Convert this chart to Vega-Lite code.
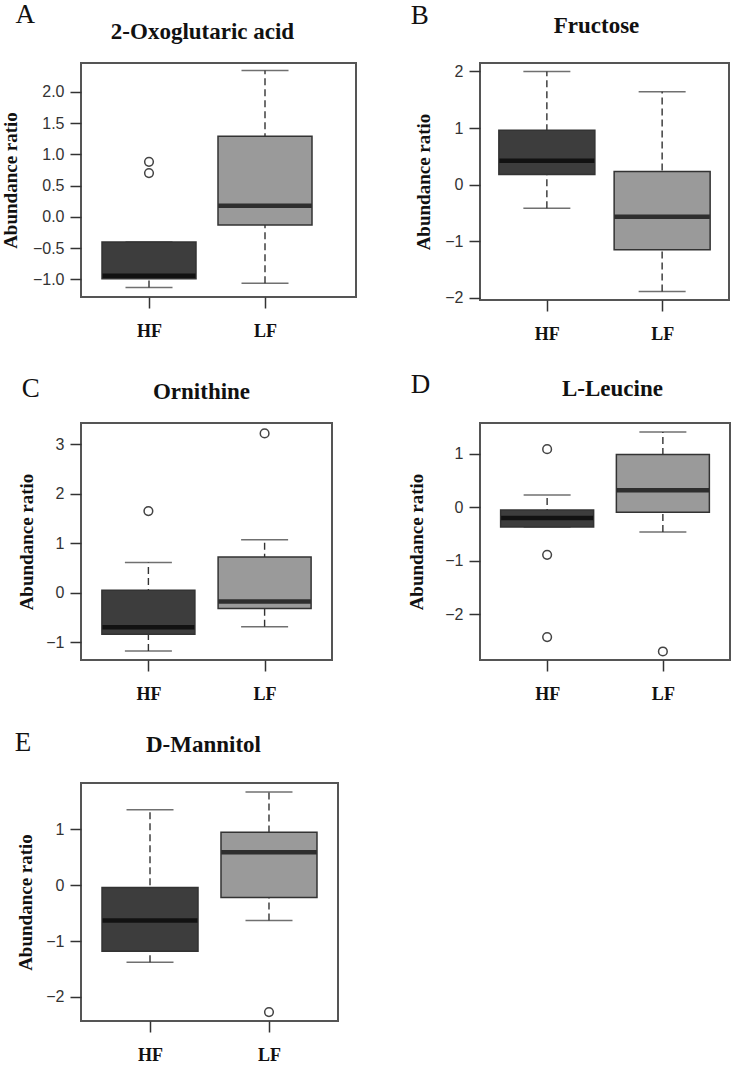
{
  "$schema": "https://vega.github.io/schema/vega-lite/v6.json",
  "background": "white",
  "padding": {"left": 0, "top": 0, "right": 0, "bottom": 0},
  "datasets": {
    "boxes": [
      {"panel": "A", "group": "HF", "lo": -1.13, "q1": -0.99, "med": -0.94, "q3": -0.40, "hi": -0.40},
      {"panel": "A", "group": "LF", "lo": -1.06, "q1": -0.13, "med": 0.18, "q3": 1.29, "hi": 2.34},
      {"panel": "B", "group": "HF", "lo": -0.42, "q1": 0.18, "med": 0.42, "q3": 0.96, "hi": 2.0},
      {"panel": "B", "group": "LF", "lo": -1.89, "q1": -1.15, "med": -0.57, "q3": 0.23, "hi": 1.64},
      {"panel": "C", "group": "HF", "lo": -1.18, "q1": -0.84, "med": -0.70, "q3": 0.05, "hi": 0.61},
      {"panel": "C", "group": "LF", "lo": -0.69, "q1": -0.32, "med": -0.18, "q3": 0.72, "hi": 1.07},
      {"panel": "D", "group": "HF", "lo": -0.37, "q1": -0.37, "med": -0.20, "q3": -0.05, "hi": 0.23},
      {"panel": "D", "group": "LF", "lo": -0.46, "q1": -0.09, "med": 0.32, "q3": 0.99, "hi": 1.41},
      {"panel": "E", "group": "HF", "lo": -1.38, "q1": -1.18, "med": -0.63, "q3": -0.04, "hi": 1.35},
      {"panel": "E", "group": "LF", "lo": -0.63, "q1": -0.22, "med": 0.59, "q3": 0.95, "hi": 1.67}
    ],
    "outliers": [
      {"panel": "A", "group": "HF", "value": 0.88},
      {"panel": "A", "group": "HF", "value": 0.70},
      {"panel": "C", "group": "HF", "value": 1.65},
      {"panel": "C", "group": "LF", "value": 3.22},
      {"panel": "D", "group": "HF", "value": 1.09},
      {"panel": "D", "group": "HF", "value": -0.89},
      {"panel": "D", "group": "HF", "value": -2.43},
      {"panel": "D", "group": "LF", "value": -2.70},
      {"panel": "E", "group": "LF", "value": -2.27}
    ]
  },
  "columns": 2,
  "bounds": "flush",
  "align": "each",
  "spacing": {"row": 123, "column": 124},
  "concat": [
    {
      "title": {"text": "A", "dx": 14, "offset": -9},
      "width": 275, "height": 234,
      "resolve": {"axis": {"x": "independent"}},
      "layer": [
        {"data": {"name": "boxes"}, "transform": [{"filter": "datum.panel === 'A'"}],
         "mark": {"type": "rule", "strokeDash": [7, 4], "color": "#333", "strokeWidth": 1.4},
         "encoding": {
           "x": {"field": "group", "type": "nominal", "scale": {"type": "point", "range": [68, 184], "padding": 0}},
           "y": {"field": "lo", "type": "quantitative", "scale": {"domain": [-1.28, 2.46], "nice": false, "zero": false}, "axis": {"values": [-1, -0.5, 0, 0.5, 1, 1.5, 2], "format": ".1f", "title": "Abundance ratio", "titlePadding": 12}},
           "y2": {"field": "hi"}}},
        {"data": {"name": "boxes"}, "transform": [{"filter": "datum.panel === 'A'"}],
         "mark": {"type": "tick", "size": 47, "thickness": 1.5, "color": "#333"},
         "encoding": {
           "x": {"field": "group", "type": "nominal", "scale": {"type": "point", "range": [68, 184], "padding": 0}, "axis": null},
           "y": {"field": "lo", "type": "quantitative", "scale": {"domain": [-1.28, 2.46], "nice": false, "zero": false}, "axis": {"values": [-1, -0.5, 0, 0.5, 1, 1.5, 2], "format": ".1f", "title": "Abundance ratio", "titlePadding": 12}}}},
        {"data": {"name": "boxes"}, "transform": [{"filter": "datum.panel === 'A'"}],
         "mark": {"type": "tick", "size": 47, "thickness": 1.5, "color": "#333"},
         "encoding": {
           "x": {"field": "group", "type": "nominal", "scale": {"type": "point", "range": [68, 184], "padding": 0}, "axis": null},
           "y": {"field": "hi", "type": "quantitative", "scale": {"domain": [-1.28, 2.46], "nice": false, "zero": false}, "axis": {"values": [-1, -0.5, 0, 0.5, 1, 1.5, 2], "format": ".1f", "title": "Abundance ratio", "titlePadding": 12}}}},
        {"data": {"name": "boxes"}, "transform": [{"filter": "datum.panel === 'A'"}],
         "mark": {"type": "bar", "width": 94, "stroke": "#333", "strokeWidth": 1.5, "opacity": 1},
         "encoding": {
           "x": {"field": "group", "type": "nominal", "scale": {"type": "point", "range": [68, 184], "padding": 0}, "axis": {"orient": "top", "title": "2-Oxoglutaric  acid", "labels": false, "ticks": false, "titlePadding": 20, "titleX": 121}},
           "y": {"field": "q1", "type": "quantitative", "scale": {"domain": [-1.28, 2.46], "nice": false, "zero": false}, "axis": {"values": [-1, -0.5, 0, 0.5, 1, 1.5, 2], "format": ".1f", "title": "Abundance ratio", "titlePadding": 12}},
           "y2": {"field": "q3"},
           "color": {"field": "group", "type": "nominal", "scale": {"domain": ["HF", "LF"], "range": ["#3d3d3d", "#9a9a9a"]}, "legend": null}}},
        {"data": {"name": "boxes"}, "transform": [{"filter": "datum.panel === 'A'"}],
         "mark": {"type": "tick", "size": 93, "thickness": 4.5, "color": "#000"},
         "encoding": {
           "x": {"field": "group", "type": "nominal", "scale": {"type": "point", "range": [68, 184], "padding": 0}, "axis": null},
           "y": {"field": "med", "type": "quantitative", "scale": {"domain": [-1.28, 2.46], "nice": false, "zero": false}, "axis": {"values": [-1, -0.5, 0, 0.5, 1, 1.5, 2], "format": ".1f", "title": "Abundance ratio", "titlePadding": 12}}}},
        {"data": {"name": "outliers"}, "transform": [{"filter": "datum.panel === 'A'"}],
         "mark": {"type": "point", "filled": false, "size": 75, "strokeWidth": 1.5, "color": "#444", "opacity": 1},
         "encoding": {
           "x": {"field": "group", "type": "nominal", "scale": {"type": "point", "range": [68, 184], "padding": 0}, "axis": null},
           "y": {"field": "value", "type": "quantitative", "scale": {"domain": [-1.28, 2.46], "nice": false, "zero": false}, "axis": {"values": [-1, -0.5, 0, 0.5, 1, 1.5, 2], "format": ".1f", "title": "Abundance ratio", "titlePadding": 12}}}}
      ]
    },
    {
      "title": {"text": "B", "dx": -4, "offset": -16},
      "width": 249, "height": 237,
      "resolve": {"axis": {"x": "independent"}},
      "layer": [
        {"data": {"name": "boxes"}, "transform": [{"filter": "datum.panel === 'B'"}],
         "mark": {"type": "rule", "strokeDash": [7, 4], "color": "#333", "strokeWidth": 1.4},
         "encoding": {
           "x": {"field": "group", "type": "nominal", "scale": {"type": "point", "padding": 0.58}},
           "y": {"field": "lo", "type": "quantitative", "scale": {"domain": [-2.04, 2.15], "nice": false, "zero": false}, "axis": {"values": [-2, -1, 0, 1, 2], "format": "d", "title": "Abundance ratio", "titlePadding": 11}},
           "y2": {"field": "hi"}}},
        {"data": {"name": "boxes"}, "transform": [{"filter": "datum.panel === 'B'"}],
         "mark": {"type": "tick", "size": 47, "thickness": 1.5, "color": "#333"},
         "encoding": {
           "x": {"field": "group", "type": "nominal", "scale": {"type": "point", "padding": 0.58}, "axis": null},
           "y": {"field": "lo", "type": "quantitative", "scale": {"domain": [-2.04, 2.15], "nice": false, "zero": false}, "axis": {"values": [-2, -1, 0, 1, 2], "format": "d", "title": "Abundance ratio", "titlePadding": 11}}}},
        {"data": {"name": "boxes"}, "transform": [{"filter": "datum.panel === 'B'"}],
         "mark": {"type": "tick", "size": 47, "thickness": 1.5, "color": "#333"},
         "encoding": {
           "x": {"field": "group", "type": "nominal", "scale": {"type": "point", "padding": 0.58}, "axis": null},
           "y": {"field": "hi", "type": "quantitative", "scale": {"domain": [-2.04, 2.15], "nice": false, "zero": false}, "axis": {"values": [-2, -1, 0, 1, 2], "format": "d", "title": "Abundance ratio", "titlePadding": 11}}}},
        {"data": {"name": "boxes"}, "transform": [{"filter": "datum.panel === 'B'"}],
         "mark": {"type": "bar", "width": 96, "stroke": "#333", "strokeWidth": 1.5, "opacity": 1},
         "encoding": {
           "x": {"field": "group", "type": "nominal", "scale": {"type": "point", "padding": 0.58}, "axis": {"orient": "top", "title": "Fructose", "labels": false, "ticks": false, "titlePadding": 26, "titleX": 116}},
           "y": {"field": "q1", "type": "quantitative", "scale": {"domain": [-2.04, 2.15], "nice": false, "zero": false}, "axis": {"values": [-2, -1, 0, 1, 2], "format": "d", "title": "Abundance ratio", "titlePadding": 11}},
           "y2": {"field": "q3"},
           "color": {"field": "group", "type": "nominal", "scale": {"domain": ["HF", "LF"], "range": ["#3d3d3d", "#9a9a9a"]}, "legend": null}}},
        {"data": {"name": "boxes"}, "transform": [{"filter": "datum.panel === 'B'"}],
         "mark": {"type": "tick", "size": 95, "thickness": 4.5, "color": "#000"},
         "encoding": {
           "x": {"field": "group", "type": "nominal", "scale": {"type": "point", "padding": 0.58}, "axis": null},
           "y": {"field": "med", "type": "quantitative", "scale": {"domain": [-2.04, 2.15], "nice": false, "zero": false}, "axis": {"values": [-2, -1, 0, 1, 2], "format": "d", "title": "Abundance ratio", "titlePadding": 11}}}}
      ]
    },
    {
      "title": {"text": "C", "dx": 4, "offset": -23},
      "width": 251, "height": 237,
      "resolve": {"axis": {"x": "independent"}},
      "layer": [
        {"data": {"name": "boxes"}, "transform": [{"filter": "datum.panel === 'C'"}],
         "mark": {"type": "rule", "strokeDash": [7, 4], "color": "#333", "strokeWidth": 1.4},
         "encoding": {
           "x": {"field": "group", "type": "nominal", "scale": {"type": "point", "padding": 0.58}},
           "y": {"field": "lo", "type": "quantitative", "scale": {"domain": [-1.36, 3.43], "nice": false, "zero": false}, "axis": {"values": [-1, 0, 1, 2, 3], "format": "d", "title": "Abundance ratio", "titlePadding": 9}},
           "y2": {"field": "hi"}}},
        {"data": {"name": "boxes"}, "transform": [{"filter": "datum.panel === 'C'"}],
         "mark": {"type": "tick", "size": 47, "thickness": 1.5, "color": "#333"},
         "encoding": {
           "x": {"field": "group", "type": "nominal", "scale": {"type": "point", "padding": 0.58}, "axis": null},
           "y": {"field": "lo", "type": "quantitative", "scale": {"domain": [-1.36, 3.43], "nice": false, "zero": false}, "axis": {"values": [-1, 0, 1, 2, 3], "format": "d", "title": "Abundance ratio", "titlePadding": 9}}}},
        {"data": {"name": "boxes"}, "transform": [{"filter": "datum.panel === 'C'"}],
         "mark": {"type": "tick", "size": 47, "thickness": 1.5, "color": "#333"},
         "encoding": {
           "x": {"field": "group", "type": "nominal", "scale": {"type": "point", "padding": 0.58}, "axis": null},
           "y": {"field": "hi", "type": "quantitative", "scale": {"domain": [-1.36, 3.43], "nice": false, "zero": false}, "axis": {"values": [-1, 0, 1, 2, 3], "format": "d", "title": "Abundance ratio", "titlePadding": 9}}}},
        {"data": {"name": "boxes"}, "transform": [{"filter": "datum.panel === 'C'"}],
         "mark": {"type": "bar", "width": 93, "stroke": "#333", "strokeWidth": 1.5, "opacity": 1},
         "encoding": {
           "x": {"field": "group", "type": "nominal", "scale": {"type": "point", "padding": 0.58}, "axis": {"orient": "top", "title": "Ornithine", "labels": false, "ticks": false, "titlePadding": 20, "titleX": 120}},
           "y": {"field": "q1", "type": "quantitative", "scale": {"domain": [-1.36, 3.43], "nice": false, "zero": false}, "axis": {"values": [-1, 0, 1, 2, 3], "format": "d", "title": "Abundance ratio", "titlePadding": 9}},
           "y2": {"field": "q3"},
           "color": {"field": "group", "type": "nominal", "scale": {"domain": ["HF", "LF"], "range": ["#858585", "#6a6a6a"]}, "legend": null}}},
        {"data": {"name": "boxes"}, "transform": [{"filter": "datum.panel === 'C'"}],
         "mark": {"type": "tick", "size": 92, "thickness": 4.5, "color": "#000"},
         "encoding": {
           "x": {"field": "group", "type": "nominal", "scale": {"type": "point", "padding": 0.58}, "axis": null},
           "y": {"field": "med", "type": "quantitative", "scale": {"domain": [-1.36, 3.43], "nice": false, "zero": false}, "axis": {"values": [-1, 0, 1, 2, 3], "format": "d", "title": "Abundance ratio", "titlePadding": 9}}}},
        {"data": {"name": "outliers"}, "transform": [{"filter": "datum.panel === 'C'"}],
         "mark": {"type": "point", "filled": false, "size": 75, "strokeWidth": 1.5, "color": "#444", "opacity": 1},
         "encoding": {
           "x": {"field": "group", "type": "nominal", "scale": {"type": "point", "padding": 0.58}, "axis": null},
           "y": {"field": "value", "type": "quantitative", "scale": {"domain": [-1.36, 3.43], "nice": false, "zero": false}, "axis": {"values": [-1, 0, 1, 2, 3], "format": "d", "title": "Abundance ratio", "titlePadding": 9}}}}
      ]
    },
    {
      "title": {"text": "D", "dx": 3, "offset": -22},
      "width": 250, "height": 237,
      "resolve": {"axis": {"x": "independent"}},
      "layer": [
        {"data": {"name": "boxes"}, "transform": [{"filter": "datum.panel === 'D'"}],
         "mark": {"type": "rule", "strokeDash": [7, 4], "color": "#333", "strokeWidth": 1.4},
         "encoding": {
           "x": {"field": "group", "type": "nominal", "scale": {"type": "point", "padding": 0.58}},
           "y": {"field": "lo", "type": "quantitative", "scale": {"domain": [-2.86, 1.58], "nice": false, "zero": false}, "axis": {"values": [-2, -1, 0, 1], "format": "d", "title": "Abundance ratio", "titlePadding": 18}},
           "y2": {"field": "hi"}}},
        {"data": {"name": "boxes"}, "transform": [{"filter": "datum.panel === 'D'"}],
         "mark": {"type": "tick", "size": 47, "thickness": 1.5, "color": "#333"},
         "encoding": {
           "x": {"field": "group", "type": "nominal", "scale": {"type": "point", "padding": 0.58}, "axis": null},
           "y": {"field": "lo", "type": "quantitative", "scale": {"domain": [-2.86, 1.58], "nice": false, "zero": false}, "axis": {"values": [-2, -1, 0, 1], "format": "d", "title": "Abundance ratio", "titlePadding": 18}}}},
        {"data": {"name": "boxes"}, "transform": [{"filter": "datum.panel === 'D'"}],
         "mark": {"type": "tick", "size": 47, "thickness": 1.5, "color": "#333"},
         "encoding": {
           "x": {"field": "group", "type": "nominal", "scale": {"type": "point", "padding": 0.58}, "axis": null},
           "y": {"field": "hi", "type": "quantitative", "scale": {"domain": [-2.86, 1.58], "nice": false, "zero": false}, "axis": {"values": [-2, -1, 0, 1], "format": "d", "title": "Abundance ratio", "titlePadding": 18}}}},
        {"data": {"name": "boxes"}, "transform": [{"filter": "datum.panel === 'D'"}],
         "mark": {"type": "bar", "width": 93, "stroke": "#333", "strokeWidth": 1.5, "opacity": 1},
         "encoding": {
           "x": {"field": "group", "type": "nominal", "scale": {"type": "point", "padding": 0.58}, "axis": {"orient": "top", "title": "L-Leucine", "labels": false, "ticks": false, "titlePadding": 23, "titleX": 132}},
           "y": {"field": "q1", "type": "quantitative", "scale": {"domain": [-2.86, 1.58], "nice": false, "zero": false}, "axis": {"values": [-2, -1, 0, 1], "format": "d", "title": "Abundance ratio", "titlePadding": 18}},
           "y2": {"field": "q3"},
           "color": {"field": "group", "type": "nominal", "scale": {"domain": ["HF", "LF"], "range": ["#888888", "#6a6a6a"]}, "legend": null}}},
        {"data": {"name": "boxes"}, "transform": [{"filter": "datum.panel === 'D'"}],
         "mark": {"type": "tick", "size": 92, "thickness": 4.5, "color": "#000"},
         "encoding": {
           "x": {"field": "group", "type": "nominal", "scale": {"type": "point", "padding": 0.58}, "axis": null},
           "y": {"field": "med", "type": "quantitative", "scale": {"domain": [-2.86, 1.58], "nice": false, "zero": false}, "axis": {"values": [-2, -1, 0, 1], "format": "d", "title": "Abundance ratio", "titlePadding": 18}}}},
        {"data": {"name": "outliers"}, "transform": [{"filter": "datum.panel === 'D'"}],
         "mark": {"type": "point", "filled": false, "size": 75, "strokeWidth": 1.5, "color": "#444", "opacity": 1},
         "encoding": {
           "x": {"field": "group", "type": "nominal", "scale": {"type": "point", "padding": 0.58}, "axis": null},
           "y": {"field": "value", "type": "quantitative", "scale": {"domain": [-2.86, 1.58], "nice": false, "zero": false}, "axis": {"values": [-2, -1, 0, 1], "format": "d", "title": "Abundance ratio", "titlePadding": 18}}}}
      ]
    },
    {
      "title": {"text": "E", "dx": -2, "offset": -24},
      "width": 257, "height": 238,
      "resolve": {"axis": {"x": "independent"}},
      "layer": [
        {"data": {"name": "boxes"}, "transform": [{"filter": "datum.panel === 'E'"}],
         "mark": {"type": "rule", "strokeDash": [7, 4], "color": "#333", "strokeWidth": 1.4},
         "encoding": {
           "x": {"field": "group", "type": "nominal", "scale": {"type": "point", "padding": 0.58}},
           "y": {"field": "lo", "type": "quantitative", "scale": {"domain": [-2.43, 1.83], "nice": false, "zero": false}, "axis": {"values": [-2, -1, 0, 1], "format": "d", "title": "Abundance ratio", "titlePadding": 10}},
           "y2": {"field": "hi"}}},
        {"data": {"name": "boxes"}, "transform": [{"filter": "datum.panel === 'E'"}],
         "mark": {"type": "tick", "size": 47, "thickness": 1.5, "color": "#333"},
         "encoding": {
           "x": {"field": "group", "type": "nominal", "scale": {"type": "point", "padding": 0.58}, "axis": null},
           "y": {"field": "lo", "type": "quantitative", "scale": {"domain": [-2.43, 1.83], "nice": false, "zero": false}, "axis": {"values": [-2, -1, 0, 1], "format": "d", "title": "Abundance ratio", "titlePadding": 10}}}},
        {"data": {"name": "boxes"}, "transform": [{"filter": "datum.panel === 'E'"}],
         "mark": {"type": "tick", "size": 47, "thickness": 1.5, "color": "#333"},
         "encoding": {
           "x": {"field": "group", "type": "nominal", "scale": {"type": "point", "padding": 0.58}, "axis": null},
           "y": {"field": "hi", "type": "quantitative", "scale": {"domain": [-2.43, 1.83], "nice": false, "zero": false}, "axis": {"values": [-2, -1, 0, 1], "format": "d", "title": "Abundance ratio", "titlePadding": 10}}}},
        {"data": {"name": "boxes"}, "transform": [{"filter": "datum.panel === 'E'"}],
         "mark": {"type": "bar", "width": 96, "stroke": "#333", "strokeWidth": 1.5, "opacity": 1},
         "encoding": {
           "x": {"field": "group", "type": "nominal", "scale": {"type": "point", "padding": 0.58}, "axis": {"orient": "top", "title": "D-Mannitol", "labels": false, "ticks": false, "titlePadding": 27, "titleX": 122}},
           "y": {"field": "q1", "type": "quantitative", "scale": {"domain": [-2.43, 1.83], "nice": false, "zero": false}, "axis": {"values": [-2, -1, 0, 1], "format": "d", "title": "Abundance ratio", "titlePadding": 10}},
           "y2": {"field": "q3"},
           "color": {"field": "group", "type": "nominal", "scale": {"domain": ["HF", "LF"], "range": ["#3d3d3d", "#9a9a9a"]}, "legend": null}}},
        {"data": {"name": "boxes"}, "transform": [{"filter": "datum.panel === 'E'"}],
         "mark": {"type": "tick", "size": 95, "thickness": 4.5, "color": "#000"},
         "encoding": {
           "x": {"field": "group", "type": "nominal", "scale": {"type": "point", "padding": 0.58}, "axis": null},
           "y": {"field": "med", "type": "quantitative", "scale": {"domain": [-2.43, 1.83], "nice": false, "zero": false}, "axis": {"values": [-2, -1, 0, 1], "format": "d", "title": "Abundance ratio", "titlePadding": 10}}}},
        {"data": {"name": "outliers"}, "transform": [{"filter": "datum.panel === 'E'"}],
         "mark": {"type": "point", "filled": false, "size": 75, "strokeWidth": 1.5, "color": "#444", "opacity": 1},
         "encoding": {
           "x": {"field": "group", "type": "nominal", "scale": {"type": "point", "padding": 0.58}, "axis": null},
           "y": {"field": "value", "type": "quantitative", "scale": {"domain": [-2.43, 1.83], "nice": false, "zero": false}, "axis": {"values": [-2, -1, 0, 1], "format": "d", "title": "Abundance ratio", "titlePadding": 10}}}}
      ]
    }
  ],
  "config": {
    "view": {"stroke": "#555", "strokeWidth": 2},
    "title": {"font": "Liberation Serif", "fontWeight": "normal", "fontSize": 27, "color": "#111", "anchor": "start", "frame": "bounds"},
    "axis": {"grid": false, "domain": false, "tickColor": "#333", "tickWidth": 1.5},
    "axisX": {"labelAngle": 0, "labelFont": "Liberation Serif", "labelFontWeight": "bold", "labelFontSize": 18, "labelColor": "#111", "tickSize": 11, "labelPadding": 14, "title": null, "titleFont": "Liberation Serif", "titleFontWeight": "bold", "titleFontSize": 23, "titleColor": "#111"},
    "axisY": {"labelFont": "Liberation Sans", "labelFontSize": 16, "labelColor": "#333", "tickSize": 11, "labelPadding": 6, "titleFont": "Liberation Serif", "titleFontWeight": "bold", "titleFontSize": 19, "titleColor": "#111"}
  }
}
